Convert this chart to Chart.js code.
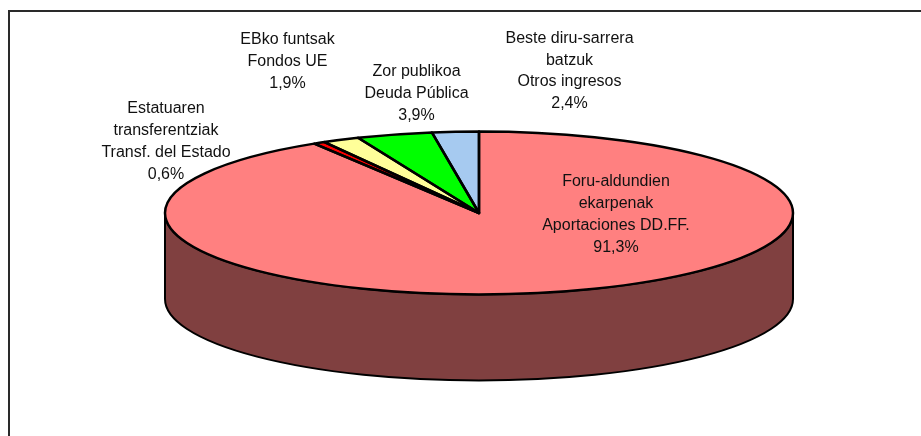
<!DOCTYPE html>
<html>
<head>
<meta charset="utf-8">
<style>
html,body{margin:0;padding:0;background:#fff;}
#wrap{position:relative;width:921px;height:436px;}
canvas{display:block;}
</style>
<script src="https://cdn.jsdelivr.net/npm/chart.js@4"></script>
</head>
<body>
<div id="wrap"><canvas id="c" width="921" height="436"></canvas></div>
<script>
const categories = ["Foru-aldundien ekarpenak", "Estatuaren transferentziak", "EBko funtsak", "Zor publikoa", "Beste diru-sarrera batzuk"];
const values = [91.3, 0.6, 1.9, 3.9, 2.4];
const sliceColors = ["#FF8080", "#FF0000", "#FFFF99", "#00FF00", "#A6CAF0"];
const sideColors = ["#804040", "#800000", "#80804D", "#008000", "#536578"];
const labelLines = [
  ["Foru-aldundien", "ekarpenak", "Aportaciones DD.FF.", "91,3%"],
  ["Estatuaren", "transferentziak", "Transf. del Estado", "0,6%"],
  ["EBko funtsak", "Fondos UE", "1,9%"],
  ["Zor publikoa", "Deuda Pública", "3,9%"],
  ["Beste diru-sarrera", "batzuk", "Otros ingresos", "2,4%"]
];
const labelCenterX = [616, 166, 287.5, 416.5, 569.5];
const labelFirstLineY = [182, 109, 40, 72, 38.5];

const geom = {cx: 479, cy: 213, rx: 314, ry: 81.5, depth: 86, r: 200};
const lineH = 21.7;

function sidePath(ctx, el){
  const a = Math.max(el.startAngle, 0), b = Math.min(el.endAngle, Math.PI);
  if (b <= a) return false;
  ctx.beginPath();
  ctx.ellipse(geom.cx, geom.cy, geom.rx, geom.ry, 0, a, b);
  ctx.ellipse(geom.cx, geom.cy + geom.depth, geom.rx, geom.ry, 0, b, a, true);
  ctx.closePath();
  return true;
}

const pie3d = {
  id: "pie3d",
  beforeDatasetsDraw(chart){
    const ctx = chart.ctx, arcs = chart.getDatasetMeta(0).data;
    ctx.save();
    ctx.lineWidth = 2; ctx.strokeStyle = "#000"; ctx.lineJoin = "round";
    arcs.forEach((el, i) => {
      if (sidePath(ctx, el)) { ctx.fillStyle = sideColors[i]; ctx.fill(); ctx.stroke(); }
    });
    ctx.restore();
    ctx.save();
    ctx.translate(geom.cx, geom.cy);
    ctx.scale(geom.rx / geom.r, geom.ry / geom.r);
    ctx.translate(-geom.cx, -geom.cy);
  },
  afterDatasetsDraw(chart){
    const ctx = chart.ctx, arcs = chart.getDatasetMeta(0).data;
    ctx.restore();
    ctx.save();
    ctx.lineWidth = 2.5; ctx.strokeStyle = "#000"; ctx.lineJoin = "round";
    arcs.forEach(el => {
      ctx.beginPath();
      ctx.moveTo(geom.cx, geom.cy);
      ctx.ellipse(geom.cx, geom.cy, geom.rx, geom.ry, 0, el.startAngle, el.endAngle);
      ctx.closePath();
      ctx.stroke();
    });
    ctx.restore();
  },
  afterDraw(chart){
    const ctx = chart.ctx;
    ctx.save();
    ctx.strokeStyle = "#2a2a2a"; ctx.lineWidth = 2;
    ctx.beginPath(); ctx.moveTo(9, 436); ctx.lineTo(9, 11); ctx.lineTo(921, 11); ctx.stroke();
    ctx.fillStyle = "#111";
    ctx.font = '16px "Liberation Sans", Arial, sans-serif';
    ctx.textAlign = "center"; ctx.textBaseline = "middle";
    labelLines.forEach((lines, i) => {
      lines.forEach((t, j) => ctx.fillText(t, labelCenterX[i], labelFirstLineY[i] + j * lineH));
    });
    ctx.restore();
  }
};

new Chart(document.getElementById("c"), {
  type: "pie",
  data: {labels: categories, datasets: [{data: values, backgroundColor: sliceColors, borderWidth: 0, clip: false}]},
  options: {
    responsive: false,
    animation: false,
    rotation: 0,
    layout: {padding: {left: geom.cx - geom.r, right: 921 - geom.cx - geom.r, top: geom.cy - geom.r, bottom: 436 - geom.cy - geom.r}},
    plugins: {legend: {display: false}, tooltip: {enabled: false}, title: {display: false}}
  },
  plugins: [pie3d]
});
</script>
</body>
</html>
